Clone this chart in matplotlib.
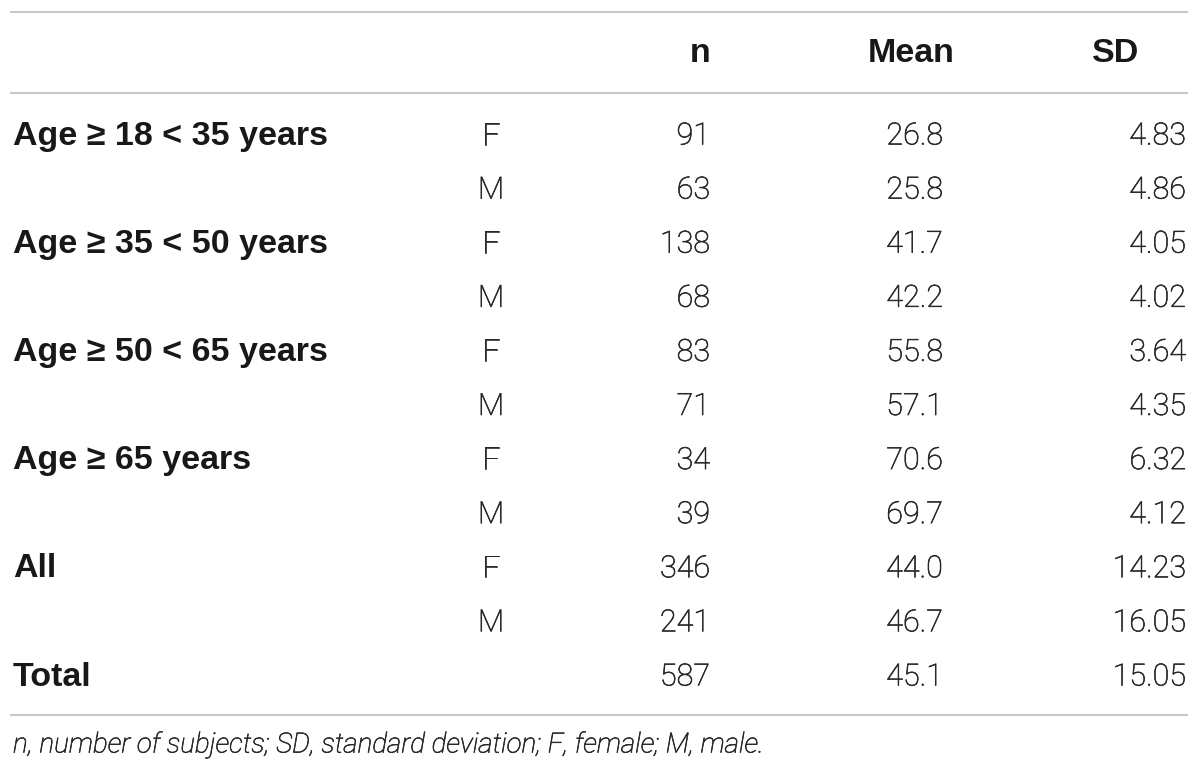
import matplotlib
matplotlib.use("Agg")
import matplotlib.pyplot as plt
import matplotlib.patheffects as pe

# ---- data ----
headers = ["n", "Mean", "SD"]
group_labels = ["Age \u2265 18 < 35 years", "", "Age \u2265 35 < 50 years", "",
                "Age \u2265 50 < 65 years", "", "Age \u2265 65 years", "",
                "All", "", "Total"]
sex = ["F", "M", "F", "M", "F", "M", "F", "M", "F", "M", ""]
n_values = [91, 63, 138, 68, 83, 71, 34, 39, 346, 241, 587]
mean_values = ["26.8", "25.8", "41.7", "42.2", "55.8", "57.1", "70.6", "69.7", "44.0", "46.7", "45.1"]
sd_values = ["4.83", "4.86", "4.05", "4.02", "3.64", "4.35", "6.32", "4.12", "14.23", "16.05", "15.05"]
footnote = "n, number of subjects; SD, standard deviation; F, female; M, male."

# ---- layout ----
W, H = 1200, 777
fig = plt.figure(figsize=(12, 7.77), dpi=100)
ax = fig.add_axes([0, 0, 1, 1])
ax.set_xlim(0, W)
ax.set_ylim(H, 0)
ax.axis("off")

FONT = ["Roboto", "DejaVu Sans"]
BFONT = ["Liberation Sans", "DejaVu Sans"]
FS = 22
FSB = 24.5
TXT = "#1a1718"
NUM = "#2a2728"
LINE = "#c8c8c8"
LIGHT = "light"
THICK = [pe.withStroke(linewidth=0.45, foreground=NUM)]

x_label = 13
x_sex = 491
x_n = 710
x_mean = 943
x_sd = 1186

y_header = 54
y_first = 136
row_step = 54.1

# rules
for yl in (12, 93, 715):
    ax.plot([10, 1188], [yl, yl], color=LINE, lw=1.5, solid_capstyle="butt")

# header
ax.text(x_n, y_header, headers[0], ha="right", va="center", fontsize=FSB,
        fontweight="bold", family=BFONT, color=TXT)
ax.text(911, y_header, headers[1], ha="center", va="center", fontsize=FSB,
        fontweight="bold", family=BFONT, color=TXT)
ax.text(1116, y_header, headers[2], ha="center", va="center", fontsize=FSB,
        fontweight="bold", family=BFONT, color=TXT)

for i in range(len(n_values)):
    y = y_first + i * row_step
    if group_labels[i]:
        ax.text(x_label, y, group_labels[i], ha="left", va="center", fontsize=FSB,
                fontweight="bold", family=BFONT, color=TXT)
    if sex[i]:
        ax.text(x_sex, y, sex[i], ha="center", va="center", fontsize=FS,
                fontweight=LIGHT, family=FONT, color=NUM, path_effects=THICK)
    ax.text(x_n, y, str(n_values[i]), ha="right", va="center", fontsize=FS,
            fontweight=LIGHT, family=FONT, color=NUM, path_effects=THICK)
    ax.text(x_mean, y, mean_values[i], ha="right", va="center", fontsize=FS,
            fontweight=LIGHT, family=FONT, color=NUM, path_effects=THICK)
    ax.text(x_sd, y, sd_values[i], ha="right", va="center", fontsize=FS,
            fontweight=LIGHT, family=FONT, color=NUM, path_effects=THICK)

ax.text(x_label, 745, footnote, ha="left", va="center", fontsize=20,
        style="italic", fontweight=LIGHT, family=FONT, color=NUM, path_effects=THICK)

fig.savefig("out.png", dpi=100)
